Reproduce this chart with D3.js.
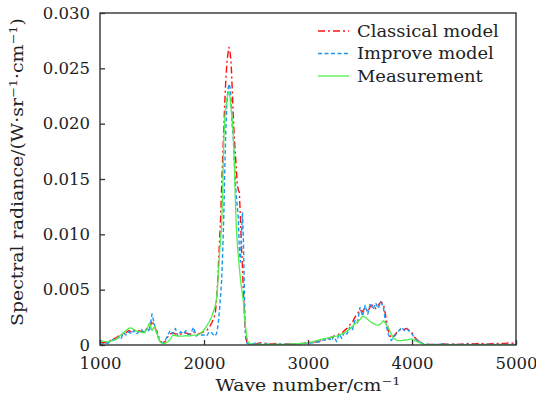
<!DOCTYPE html>
<html>
<head>
<meta charset="utf-8">
<script src="https://cdn.jsdelivr.net/npm/d3@7"></script>
<style>
  html, body { margin: 0; padding: 0; background: #fff; }
  svg text { font-family: "DejaVu Serif", serif; fill: #222; }
</style>
</head>
<body>
<div id="chart"></div>
<script>
// sample positions (cm^-1): denser around the CO2 peak
const wavenumber = [].concat(
    d3.range(1000, 2101, 25),
    d3.range(2110, 2451, 10),
    d3.range(2500, 3101, 50),
    d3.range(3125, 4201, 25),
    d3.range(4250, 5001, 50)
);

// radiance values, in units of 1e-3 W·sr^-1·cm^-1
const classical = [
    0.3,0.2,0.2,0.3,0.4,0.6,0.6,0.8,0.7,1.0, 1.1,1.3,1.2,1.4,1.2,1.3,1.2,1.2,1.5,1.4,
    2.2,1.6,1.2,0.4,0.2,0.3,0.7,1.0,1.1,1.0, 1.0,1.0,1.0,1.1,1.0,1.0,1.2,1.0,1.0,1.1,
    1.2,1.3,1.6,2.0,2.6,
    3.0,4.0,5.5,7.5,9.5,11.5,14.5,17,19.5,22, 24,25.5,26.3,26.9,26.5,25.6,23.5,21,19,17.5,
    16,14.5,14,13.8,11.5,9,7,4.5,2.5,1.0, 0.3,0.15,0.1,0.1,0.05,
    0.1,0.2,0.15,0.1,0.15,0.05,0.1,0.05,0.1,0.15,0.2,0.25,0.3,
    0.4,0.45,0.5,0.6,0.7,0.8,0.9,1.0,1.1,1.3, 1.5,1.8,2.0,2.5,2.8,3.2,3.0,3.4,3.0,3.5,
    3.6,3.3,3.6,3.9,3.7,2.5,1.2,0.6,0.8,1.1, 1.3,1.5,1.4,1.5,1.3,1.1,0.7,0.45,0.3,0.15,
    0.1,0.05,0.05,0.05,
    0.05,0.1,0.05,0.1,0.05,0.1,0.15,0.1,0.15,0.1,0.1,0.15,0.15,0.15,0.2,0.1
];

const improved = [
    0.0,0.1,0.2,0.15,0.3,0.5,0.4,0.7,0.5,1.1, 0.9,1.2,1.0,1.3,1.0,1.2,1.4,1.0,1.6,1.2,
    2.8,1.8,0.9,0.3,0.2,0.3,0.9,1.3,1.0,1.5, 0.8,1.2,1.0,1.3,0.9,1.1,1.6,0.8,1.0,0.9,
    0.9,0.8,1.2,1.1,0.8,
    0.9,1.0,1.5,2.2,3.3,4.5,5.9,8.5,11.5,16, 19.5,21.8,23,23.6,23.3,22.2,20,19,17,15,
    13.5,12.5,11.5,8.5,7.5,10,12,9,4,0.6, 0.2,0.1,0.1,0.05,0.05,
    0.2,0.05,0.1,0.05,0.05,0.1,0.05,0.1,0.1,0.1,0.15,0.2,0.3,
    0.3,0.5,0.4,0.6,0.4,0.8,0.3,1.0,0.6,1.2, 1.0,1.6,1.3,2.2,2.0,3.4,2.6,3.6,2.8,3.8,
    3.2,3.8,3.3,3.9,3.4,1.8,0.9,0.4,0.7,1.0, 1.3,1.6,1.3,1.5,1.2,1.0,0.6,0.4,0.3,0.15,
    0.1,0.05,0.05,0.05,
    0.05,0.1,0.05,0.05,0.05,0.05,0.05,0.05,0.05,0.05,0.05,0.05,0.05,0.05,0.05,0.05
];

const measured = [
    0.45,0.35,0.3,0.3,0.35,0.4,0.5,0.7,0.9,1.1, 1.3,1.5,1.55,1.4,1.25,1.2,1.15,1.1,1.4,2.0,
    1.3,1.7,1.0,0.3,0.15,0.15,0.3,0.5,0.9,0.85, 0.8,0.8,0.8,0.85,0.8,0.85,0.9,0.9,0.95,1.1,
    1.35,1.7,2.1,2.6,3.3,
    3.6,4.2,5.2,6.8,8.3,9.6,10.8,14,18.5,20.5, 21.5,22.2,22.7,22.9,22.4,21.5,20.5,19.3,17,13.5,
    10.8,9.2,8,7,6,5.2,4.6,3.8,2.6,1.6, 0.8,0.35,0.2,0.15,0.1,
    0.05,0.05,0.05,0.05,0.05,0.05,0.05,0.1,0.1,0.15,0.2,0.3,0.45,
    0.5,0.55,0.6,0.65,0.7,0.75,0.8,0.9,1.0,1.1, 1.25,1.45,1.7,1.9,2.1,2.3,2.6,2.5,2.3,2.1,
    1.95,1.85,1.8,1.9,2.2,1.9,1.5,1.0,0.6,0.45, 0.4,0.4,0.45,0.45,0.5,0.55,0.4,0.3,0.2,0.1,
    0.05,0.03,0.02,0.02,
    0.02,0.02,0.02,0.02,0.02,0.02,0.02,0.02,0.02,0.02,0.02,0.02,0.02,0.02,0.02,0.02
];

const seriesNames = ['Classical model', 'Improve model', 'Measurement'];
const xTicks = [1000, 2000, 3000, 4000, 5000];
const yTicks = [0, 0.005, 0.010, 0.015, 0.020, 0.025, 0.030];

const series = [
    { name: seriesNames[0], values: classical, color: '#ff1010', dash: '7,3,2,3', width: 1.4 },
    { name: seriesNames[1], values: improved, color: '#1e96f0', dash: '4,2.5', width: 1.4 },
    { name: seriesNames[2], values: measured, color: '#4ef04e', dash: null, width: 1.3 }
];

const W = 536, H = 405;
const margin = { top: 13, right: 20, bottom: 60, left: 100 };
const width = W - margin.left - margin.right;
const height = H - margin.top - margin.bottom;

const svg = d3.select('#chart')
    .append('svg')
    .attr('width', W)
    .attr('height', H);

const g = svg.append('g')
    .attr('transform', `translate(${margin.left},${margin.top})`);

const xScale = d3.scaleLinear().domain([1000, 5000]).range([0, width]);
const yScale = d3.scaleLinear().domain([0, 0.03]).range([height, 0]);

g.append('clipPath').attr('id', 'plot-clip')
    .append('rect').attr('width', width).attr('height', height);

// lines
const line = d3.line()
    .x((d, i) => xScale(wavenumber[i]))
    .y(d => yScale(d / 1000));

const lines = g.append('g').attr('clip-path', 'url(#plot-clip)');
series.forEach(s => {
    lines.append('path')
        .datum(s.values)
        .attr('fill', 'none')
        .attr('stroke', s.color)
        .attr('stroke-width', s.width)
        .attr('stroke-dasharray', s.dash)
        .attr('stroke-linejoin', 'round')
        .attr('d', line);
});

// axes (ticks pointing inward)
const xAxis = g.append('g')
    .attr('transform', `translate(0,${height})`)
    .call(d3.axisBottom(xScale).tickValues(xTicks).tickSizeInner(-5).tickSizeOuter(0).tickPadding(12).tickFormat(d3.format('d')));

const yAxis = g.append('g')
    .call(d3.axisLeft(yScale).tickValues(yTicks).tickSizeInner(-5).tickSizeOuter(0).tickPadding(10)
        .tickFormat(d => d === 0 ? '0' : d.toFixed(3)));

[xAxis, yAxis].forEach(a => {
    a.select('.domain').remove();
    a.selectAll('.tick line').attr('stroke', '#333').attr('stroke-width', 1.3);
    a.selectAll('.tick text').attr('font-size', 16.5).attr('fill', '#222')
        .style('font-family', '"DejaVu Serif", serif');
});

// frame
g.append('rect')
    .attr('width', width)
    .attr('height', height)
    .attr('fill', 'none')
    .attr('stroke', '#333')
    .attr('stroke-width', 1.4);

// axis labels (slightly widened glyphs like the original figure)
const xLabel = svg.append('text')
    .attr('transform', `translate(${margin.left + width / 2},391) scale(1.18,1)`)
    .attr('text-anchor', 'middle')
    .attr('font-size', 16);
xLabel.append('tspan').text('Wave number/cm');
xLabel.append('tspan').attr('dy', -6).attr('font-size', 11).text('−1');

const yLabel = svg.append('text')
    .attr('transform', `translate(23,${margin.top + height / 2 - 7}) rotate(-90) scale(1.18,1)`)
    .attr('text-anchor', 'middle')
    .attr('font-size', 16);
yLabel.append('tspan').text('Spectral radiance/(W·sr');
yLabel.append('tspan').attr('dy', -6).attr('font-size', 11).text('−1');
yLabel.append('tspan').attr('dy', 6).text('·cm');
yLabel.append('tspan').attr('dy', -6).attr('font-size', 11).text('−1');
yLabel.append('tspan').attr('dy', 6).text(')');

// legend
const legend = svg.append('g').attr('transform', 'translate(318,31)');
series.forEach((s, i) => {
    const row = legend.append('g').attr('transform', `translate(0,${i * 22.5})`);
    row.append('line')
        .attr('x1', 0).attr('x2', 31)
        .attr('stroke', s.color)
        .attr('stroke-width', s.width)
        .attr('stroke-dasharray', s.dash);
    row.append('text')
        .attr('transform', 'translate(39,5.5) scale(1.12,1)')
        .attr('font-size', 16)
        .text(s.name);
});
</script>
</body>
</html>
